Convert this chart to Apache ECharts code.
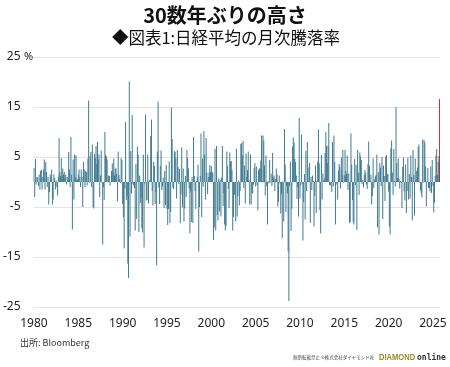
<!DOCTYPE html>
<html><head><meta charset="utf-8">
<script src="https://cdn.jsdelivr.net/npm/echarts@6/dist/echarts.min.js"></script>
<style>html,body{margin:0;padding:0;background:#fff}#c{width:450px;height:367px}</style>
</head><body><div id="c"></div>
<script>
// Monthly change of the Nikkei 225 (%), Jan 1980 - Oct 2025
const startYear = 1980;
const r1980s = [
  2.8, -3.0, 4.6, -0.5, 1.0, 0.9, -0.8, 1.5, -1.5, 2.2, 2.5, -1.5,
  1.0, 2.5, 4.5, -1.5, 4.0, 2.0, -1.0, 1.0, -4.5, -2.0, 1.5, 1.0,
  2.5, -4.5, -3.5, 1.5, 0.8, -1.5, 0.3, -1.0, -2.7, 1.0, 8.8, 2.0,
  1.2, 4.8, 1.0, 2.7, 1.5, 2.0, 0.8, 1.5, -0.5, 1.0, 0.5, 6.0,
  2.5, -1.0, 9.0, 1.5, -9.5, 4.5, -3.5, 5.5, 1.0, 5.3, 0.5, 0.5,
  1.5, 2.5, 1.0, -1.0, 2.5, 1.0, -5.0, 4.0, 2.5, -1.0, 2.2, 2.0,
  -0.7, 4.7, 16.3, -0.2, 5.2, 6.0, -1.0, 7.5, -5.0, -5.3, 5.6, 4.8,
  7.2, 3.6, 8.0, 4.5, 5.5, -3.0, 1.3, 6.3, -0.1, -12.5, -1.0, -3.6,
  10.0, 5.4, 5.1, 4.5, -0.1, 1.3, 1.2, -0.7, 0.0, 2.2, 3.7, 2.0,
  4.7, 1.3, 2.7, 2.7, 1.6, -3.8, 6.1, 1.4, 0.6, -0.2, 4.8, 4.4
];
const r1990s = [
  -4.4, -7.0, -13.3, -1.3, 12.0, -3.6, -2.8, -16.3, -19.2, 20.1, -10.9, 6.2,
  -2.3, 13.4, -0.4, -0.7, -1.2, -9.7, 3.6, -7.4, 7.1, 5.5, -10.0, 1.3,
  -4.2, -3.1, -9.3, -10.1, 5.5, -13.1, -0.3, 13.5, -3.7, -3.6, 5.5, -4.3,
  0.4, 0.2, 9.2, 12.5, -1.8, -4.7, 4.0, 3.2, -4.4, -2.0, -16.7, 6.1,
  16.1, -1.1, -4.4, 3.2, 6.3, -1.6, -0.9, 0.9, -5.2, 2.2, -4.6, 3.4,
  -5.4, -8.6, -5.4, 4.1, -8.2, -6.0, 14.9, 8.6, -1.1, -1.4, 6.2, 6.0,
  4.8, -3.3, 6.4, 3.0, -0.4, 2.6, -8.2, -2.5, 6.9, -5.1, 2.7, -7.9,
  -5.3, 1.2, -3.0, 6.4, 4.8, 2.7, -1.3, -10.3, -1.9, -8.0, 1.0, -8.2,
  9.0, 1.2, -1.8, -5.4, 0.2, 1.0, 3.5, -13.9, -5.0, 1.2, 9.7, -7.0,
  4.7, -0.9, 10.2, 5.5, -3.5, 8.8, 1.9, -2.4, 1.0, 1.9, 3.4, 2.0
];
const r2000s = [
  3.2, 2.1, 1.9, -11.6, -9.1, 6.6, -9.7, 7.2, -6.6, -7.7, 0.7, -5.9,
  0.4, -6.9, 0.9, 7.2, -4.8, -2.2, -8.5, -9.7, -8.8, 6.1, 3.2, -1.4,
  -5.2, 5.9, 4.1, 4.2, 2.4, -9.7, -7.0, -2.6, -2.5, -7.9, 6.7, -6.9,
  -2.8, 0.3, -4.7, -1.8, 7.6, 7.8, 5.3, 8.2, -1.2, 3.3, -4.3, 5.7,
  1.0, 2.4, 6.1, 0.4, -4.5, 5.5, -4.5, -2.2, -2.3, -0.5, 2.8, 3.8,
  -0.9, 3.1, -0.6, -5.7, 2.4, 2.7, 2.7, 4.3, 9.3, 0.2, 9.3, 8.3,
  3.3, -2.7, 5.3, -0.9, -8.5, 0.2, -0.3, 4.4, -0.1, 1.7, -0.8, 5.8,
  0.9, 1.3, -1.8, 0.6, 2.7, 1.5, -4.9, -3.9, 1.3, -0.3, -6.3, -2.4,
  -11.2, 0.1, -7.9, 10.6, 3.5, -6.0, -0.8, -2.3, -13.9, -23.8, -0.8, 4.1,
  -9.8, -5.3, 7.1, 8.9, 7.9, 4.6, 4.0, 1.3, -3.4, -1.0, -6.9, 12.8
];
const r2010s = [
  -3.3, -0.7, 9.5, -0.3, -11.7, -4.0, 1.6, -7.5, 6.2, -1.8, 8.0, 2.9,
  0.1, 3.8, -8.2, 1.0, -1.6, 1.3, 0.2, -8.9, -2.8, 3.3, -6.2, 0.2,
  4.1, 10.5, 3.7, -5.6, -10.3, 5.4, -3.5, 1.7, 0.3, 0.7, 5.8, 10.0,
  7.2, 3.8, 7.3, 11.8, -0.6, -0.7, -0.1, -2.0, 8.0, -0.9, 9.3, 4.0,
  -8.5, -0.5, -0.1, -3.5, 2.3, 3.6, 3.0, -1.3, 4.9, 1.5, 6.4, -0.1,
  1.3, 6.4, 2.2, 1.6, 5.3, -1.6, 1.7, -8.2, -8.0, 9.7, 3.5, -3.6,
  -8.0, -8.5, 4.6, -0.6, 3.4, -9.6, 6.4, 1.9, -2.6, 5.9, 5.1, 4.4,
  -0.4, 0.4, -1.1, 1.5, 2.4, 1.9, -0.5, -1.4, 3.6, 8.1, 3.2, 0.2,
  1.5, -4.5, -2.8, 4.7, -1.2, 0.5, 1.1, 1.4, 5.5, -9.1, 2.0, -10.5,
  3.8, 2.9, -0.8, 5.0, -7.4, 3.3, 1.2, -3.8, 5.1, 5.4, 1.6, 1.6
];
const r2020s = [
  -1.9, -8.9, -10.5, 6.7, 8.3, 1.9, -2.6, 6.6, 0.2, -0.9, 15.0, 3.8,
  0.8, 4.7, 0.7, -1.3, 0.2, -0.2, -5.2, 3.0, 4.9, -1.9, -3.7, 3.5,
  -6.2, -1.8, 4.9, -3.5, 1.6, -3.3, 5.3, 1.0, -7.7, 6.4, 1.4, -6.7,
  4.7, 0.4, 2.2, 2.9, 7.0, 7.5, -0.1, -1.7, -2.3, -3.1, 8.5, -0.1,
  8.4, 7.9, 3.1, -4.9, 0.2, 2.8, -1.2, -1.2, -1.9, 3.1, -2.2, 4.4,
  -0.8, -6.1, -4.1, 1.2, 5.3, 6.6, 1.4, 4.0, 5.2, 16.6
];
const yearLabels = ['1980','1985','1990','1995','2000','2005','2010','2015','2020','2025'];
const yMin = -25, yMax = 25, yStep = 10;

const values = [].concat(r1980s, r1990s, r2000s, r2010s, r2020s);
const categories = values.map((v, i) =>
  (startYear + Math.floor(i / 12)) + '-' + String(i % 12 + 1).padStart(2, '0'));
const lastIdx = values.length - 1;
const barData = values.map((v, i) => i === lastIdx
  ? { value: v, itemStyle: { color: '#d0101c' } }
  : v);

const chart = echarts.init(document.getElementById('c'), null, { renderer: 'canvas' });
const FONT = '"Noto Sans CJK JP", "Noto Sans", sans-serif';
chart.setOption({
  animation: false,
  backgroundColor: '#fff',
  title: [
    { text: '30数年ぶりの高さ', left: 220, top: 0, textAlign: 'center',
      textStyle: { fontFamily: FONT, fontSize: 20, fontWeight: 'bold', color: '#111' } },
    { text: '◆図表1:日経平均の月次騰落率', left: 221, top: 24, textAlign: 'center',
      textStyle: { fontFamily: FONT, fontSize: 16.5, fontWeight: 'normal', color: '#111' } }
  ],
  grid: { left: 33, right: 10, top: 57, bottom: 60 },
  xAxis: {
    type: 'category',
    data: categories,
    axisLine: { show: false, onZero: false },
    axisTick: { show: false },
    splitLine: { show: false },
    axisLabel: {
      margin: 11,
      fontFamily: '"Noto Sans", sans-serif', fontSize: 12, color: '#222',
      interval: (i, val) => val.endsWith('-01') && yearLabels.includes(val.slice(0, 4)),
      formatter: (val) => val.slice(0, 4)
    }
  },
  yAxis: {
    type: 'value', min: yMin, max: yMax, interval: yStep,
    axisLine: { show: false }, axisTick: { show: false },
    splitLine: { lineStyle: { color: '#e4e4e4', width: 1 } },
    axisLabel: { margin: 13, fontFamily: '"Noto Sans", sans-serif', fontSize: 12, color: '#222' }
  },
  series: [{
    type: 'bar',
    data: barData,
    barCategoryGap: '15%',
    itemStyle: { color: '#3f7a90' }
  }],
  graphic: [
    { type: 'text', left: 24, top: 51, style: { text: '%', font: '11px "Noto Sans", sans-serif', fill: '#222' } },
    { type: 'text', left: 20, top: 338, style: { text: '出所: Bloomberg', font: '9px "Noto Sans CJK JP", sans-serif', fill: '#333' } },
    { type: 'text', left: 293, top: 355.5, style: { text: '無断転載禁止 ©株式会社ダイヤモンド社', font: '4.5px "Noto Sans CJK JP", sans-serif', fill: '#444' } },
    { type: 'text', x: 379, y: 353, scaleX: 0.84, style: { text: 'DIAMOND', font: 'bold 9px "Liberation Sans", sans-serif', fill: '#9a8a2a' } },
    { type: 'text', x: 417, y: 354, style: { text: 'online', font: 'bold 8px "DejaVu Sans Mono", monospace', fill: '#333' } }
  ]
});
</script>
</body></html>
